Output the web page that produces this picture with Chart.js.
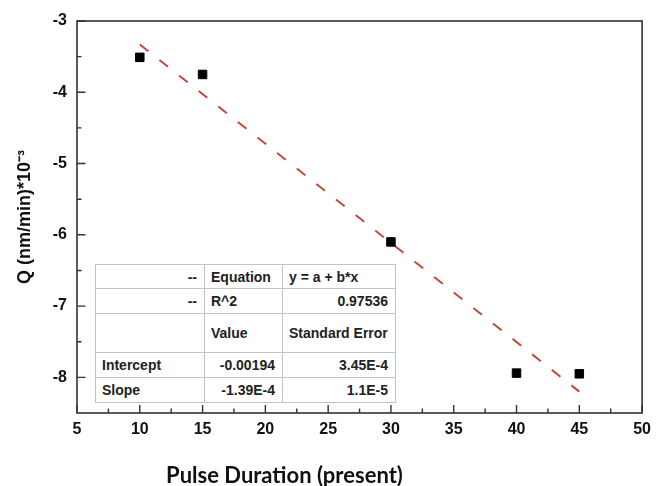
<!DOCTYPE html>
<html>
<head>
<meta charset="utf-8">
<script src="https://cdn.jsdelivr.net/npm/chart.js@4.4.0/dist/chart.umd.min.js"></script>
<style>
  html, body { margin: 0; padding: 0; background: #fff; }
  #wrap { position: relative; width: 658px; height: 486px; overflow: hidden; }
  #c { position: absolute; left: 0; top: 0; }
  #xtitle { position: absolute; left: 0; width: 569px; top: 463px; text-align: center;
            font-family: Lato, "Open Sans", sans-serif; font-weight: 700; font-size: 22px; line-height: 24px; color: #111; }
  #fit { position: absolute; left: 95px; top: 264px; border-collapse: collapse; background: #fff;
         font-family: Arial, "Liberation Sans", Helvetica, sans-serif; font-weight: 700; font-size: 14px; color: #222;
         border: 1.5px solid #8a8a8a; }
  #fit td { border: 1px solid #c4c4c4; padding: 0 7px 0 6px; white-space: nowrap; line-height: 16px; }
  #fit td.r { text-align: right; }
  #fit td.l { text-align: left; }
</style>
</head>
<body>
<div id="wrap">
  <canvas id="c" width="658" height="486"></canvas>
  <table id="fit">
    <colgroup><col style="width:109px"><col style="width:78px"><col style="width:113px"></colgroup>
    <tr style="height:24px"><td class="r">--</td><td class="l">Equation</td><td class="l">y = a + b*x</td></tr>
    <tr style="height:25px"><td class="r">--</td><td class="l">R^2</td><td class="r">0.97536</td></tr>
    <tr style="height:39px"><td></td><td class="l">Value</td><td class="l">Standard Error</td></tr>
    <tr style="height:25px"><td class="l">Intercept</td><td class="r">-0.00194</td><td class="r">3.45E-4</td></tr>
    <tr style="height:25px"><td class="l">Slope</td><td class="r">-1.39E-4</td><td class="r">1.1E-5</td></tr>
  </table>
  <div id="xtitle">Pulse Duration (present)</div>
</div>
<script>
// ---- data ----
const pulseDuration = [10, 15, 30, 40, 45];
const qValues = [-3.51, -3.75, -6.10, -7.94, -7.95];
const fitX = [10, 45];
const fitY = [-3.33, -8.20];
const xTickValues = [5, 10, 15, 20, 25, 30, 35, 40, 45, 50];
const yTickValues = [-8, -7, -6, -5, -4, -3];
const xMin = 5, xMax = 50, yMin = -8.5, yMax = -3;

const FAMILY = 'Arial, "Liberation Sans", Helvetica, sans-serif';
Chart.defaults.font.family = FAMILY;
Chart.defaults.font.weight = 700;

const frameTicks = {
  id: 'frameTicks',
  afterDatasetsDraw(chart) {
    const { ctx, chartArea: a, scales: { x, y } } = chart;
    ctx.save();
    ctx.strokeStyle = '#333';
    ctx.lineWidth = 1.6;
    ctx.strokeRect(a.left, a.top, a.right - a.left, a.bottom - a.top);
    ctx.lineWidth = 1.4;
    ctx.beginPath();
    xTickValues.forEach((v, i) => {
      const px = x.getPixelForValue(v);
      ctx.moveTo(px, a.bottom); ctx.lineTo(px, a.bottom - 8);
      if (i < xTickValues.length - 1) {
        const mv = (v + xTickValues[i + 1]) / 2, mp = x.getPixelForValue(mv);
        ctx.moveTo(mp, a.bottom); ctx.lineTo(mp, a.bottom - 4.5);
      }
    });
    yTickValues.forEach((v, i) => {
      const py = y.getPixelForValue(v);
      ctx.moveTo(a.left, py); ctx.lineTo(a.left + 8.5, py);
      if (i < yTickValues.length - 1) {
        const mv = (v + yTickValues[i + 1]) / 2, mp = y.getPixelForValue(mv);
        ctx.moveTo(a.left, mp); ctx.lineTo(a.left + 4.5, mp);
      }
    });
    ctx.stroke();
    ctx.restore();
  }
};

new Chart(document.getElementById('c'), {
  type: 'scatter',
  data: {
    datasets: [
      {
        type: 'line',
        data: fitX.map((v, i) => ({ x: v, y: fitY[i] })),
        borderColor: '#c4473c',
        borderWidth: 2,
        borderDash: [11, 14],
        pointRadius: 0,
        fill: false,
        order: 2
      },
      {
        data: pulseDuration.map((v, i) => ({ x: v, y: qValues[i] })),
        pointStyle: 'rect',
        pointRadius: 6,
        pointBorderWidth: 1,
        backgroundColor: '#000',
        borderColor: '#000',
        order: 1
      }
    ]
  },
  options: {
    responsive: false,
    animation: false,
    layout: { padding: { left: 0, right: 11, top: 21, bottom: 0 } },
    plugins: { legend: { display: false }, tooltip: { enabled: false } },
    scales: {
      x: {
        type: 'linear', min: xMin, max: xMax,
        afterBuildTicks(s) { s.ticks = xTickValues.map(v => ({ value: v })); },
        afterFit(s) { s.height = 73; },
        grid: { display: false, drawTicks: false },
        border: { display: false },
        ticks: { font: { family: FAMILY, size: 16, weight: 700 }, color: '#111', padding: 7, maxRotation: 0, autoSkip: false }
      },
      y: {
        type: 'linear', min: yMin, max: yMax,
        afterBuildTicks(s) { s.ticks = yTickValues.map(v => ({ value: v })); },
        afterFit(s) { s.width = 77; },
        grid: { display: false, drawTicks: false },
        border: { display: false },
        ticks: { font: { family: FAMILY, size: 16, weight: 700 }, color: '#111', padding: 10, autoSkip: false },
        title: {
          display: true,
          text: 'Q (nm/min)*10⁻³',
          font: { family: FAMILY, size: 18, weight: 700 },
          color: '#111',
          padding: { top: 14, bottom: 0 }
        }
      }
    }
  },
  plugins: [frameTicks]
});
</script>
</body>
</html>
